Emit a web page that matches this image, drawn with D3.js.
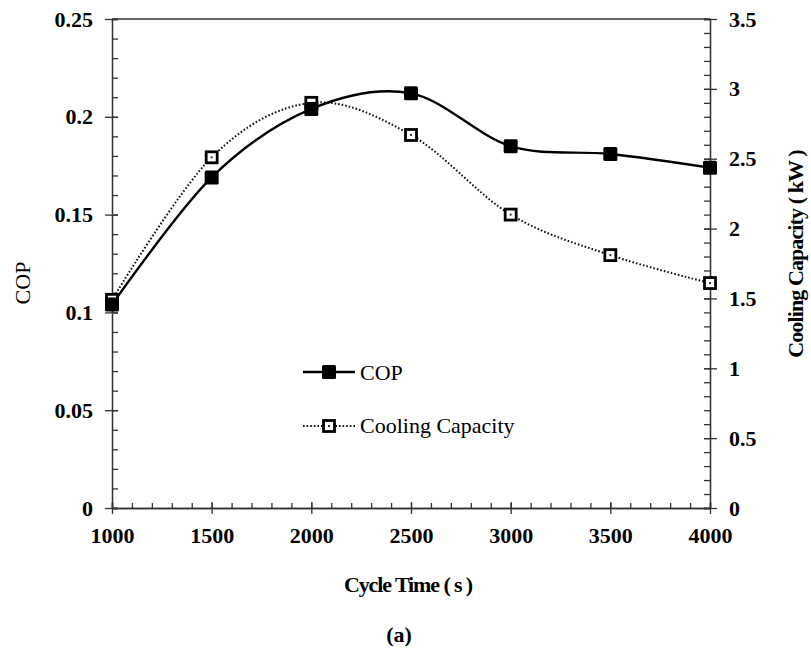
<!DOCTYPE html>
<html>
<head>
<meta charset="utf-8">
<script src="https://cdn.jsdelivr.net/npm/d3@7"></script>
<style>
  body { margin: 0; background: #fff; }
  svg { display: block; }
  text { font-family: "Liberation Serif", "Times New Roman", serif; fill: #000; }
</style>
</head>
<body>
<svg id="chart" width="811" height="656"></svg>
<script>
// ---- data ----
const cycleTimes = [1000, 1500, 2000, 2500, 3000, 3500, 4000];
const copValues = [0.104, 0.169, 0.204, 0.212, 0.185, 0.181, 0.174];
const coolingValues = [1.49, 2.51, 2.90, 2.67, 2.10, 1.81, 1.61];
const xTicks = [1000, 1500, 2000, 2500, 3000, 3500, 4000];
const copTicks = [0, 0.05, 0.1, 0.15, 0.2, 0.25];
const coolTicks = [0, 0.5, 1, 1.5, 2, 2.5, 3, 3.5];
const copTickLabels = ["0", "0.05", "0.1", "0.15", "0.2", "0.25"];
const coolTickLabels = ["0", "0.5", "1", "1.5", "2", "2.5", "3", "3.5"];
const seriesNames = ["COP", "Cooling Capacity"];

// ---- layout ----
const svg = d3.select("#chart");
const L = 112, R = 710, T = 19, B = 508;
const x = d3.scaleLinear().domain([1000, 4000]).range([L, R]);
const yL = d3.scaleLinear().domain([0, 0.25]).range([B, T]);
const yR = d3.scaleLinear().domain([0, 3.5]).range([B, T]);
const axisColor = "#333";

// top border
svg.append("line").attr("x1", L).attr("x2", R).attr("y1", T).attr("y2", T)
  .attr("stroke", axisColor).attr("stroke-width", 1.3);

function styleAxis(g) {
  g.select(".domain").attr("stroke", axisColor).attr("stroke-width", 1.3);
  g.selectAll(".tick line").attr("stroke", axisColor).attr("stroke-width", 1.3);
}

// minor ticks (inside)
const xMinor = d3.range(1000, 4001, 100);
const copMinor = d3.range(0, 26).map(i => i * 0.01);
const coolMinor = d3.range(0, 36).map(i => i * 0.1);

// x axis
const gx = svg.append("g").attr("transform", `translate(0,${B})`);
gx.call(d3.axisBottom(x).tickValues(xMinor).tickSize(-5).tickFormat(""));
styleAxis(gx);
const gx2 = svg.append("g").attr("transform", `translate(0,${B})`);
gx2.call(d3.axisBottom(x).tickValues(xTicks).tickSizeInner(6).tickSizeOuter(0).tickPadding(14).tickFormat(d3.format("d")));
styleAxis(gx2);
gx2.selectAll(".tick line").attr("y1", -6);
gx2.selectAll(".tick text").attr("font-size", 22).attr("font-weight", "bold").attr("dy", "0.7em");

// left axis
const gl = svg.append("g").attr("transform", `translate(${L},0)`);
gl.call(d3.axisLeft(yL).tickValues(copMinor).tickSize(-6).tickFormat(""));
styleAxis(gl);
const gl2 = svg.append("g").attr("transform", `translate(${L},0)`);
gl2.call(d3.axisLeft(yL).tickValues(copTicks).tickSizeInner(7).tickSizeOuter(0).tickPadding(12)
  .tickFormat((d, i) => copTickLabels[i]));
styleAxis(gl2);
gl2.selectAll(".tick line").attr("x1", 6);
gl2.selectAll(".tick text").attr("font-size", 22).attr("font-weight", "bold");

// right axis
const gr = svg.append("g").attr("transform", `translate(${R},0)`);
gr.call(d3.axisRight(yR).tickValues(coolMinor).tickSize(-6).tickFormat(""));
styleAxis(gr);
const gr2 = svg.append("g").attr("transform", `translate(${R},0)`);
gr2.call(d3.axisRight(yR).tickValues(coolTicks).tickSizeInner(7).tickSizeOuter(0).tickPadding(12)
  .tickFormat((d, i) => coolTickLabels[i]));
styleAxis(gr2);
gr2.selectAll(".tick line").attr("x1", -6);
gr2.selectAll(".tick text").attr("font-size", 22).attr("font-weight", "bold");

// axis titles
svg.append("text").attr("x", 408).attr("y", 592).attr("text-anchor", "middle")
  .attr("font-size", 22).attr("font-weight", "bold").attr("letter-spacing", "-1.1px")
  .text("Cycle Time ( s )");
svg.append("text").attr("x", 399).attr("y", 642).attr("text-anchor", "middle")
  .attr("font-size", 22).attr("font-weight", "bold").text("(a)");
svg.append("text").attr("transform", "translate(30,283) rotate(-90)")
  .attr("text-anchor", "middle").attr("font-size", 22).text("COP");
svg.append("text").attr("transform", "translate(803,254) rotate(-90)")
  .attr("text-anchor", "middle").attr("font-size", 22).attr("font-weight", "bold")
  .attr("letter-spacing", "-0.9px").text("Cooling Capacity ( kW )");

// lines
const copLine = d3.line().x((d, i) => x(cycleTimes[i])).y(d => yL(d)).curve(d3.curveCardinal.tension(0));
const coolLine = d3.line().x((d, i) => x(cycleTimes[i])).y(d => yR(d)).curve(d3.curveCardinal.tension(0));

svg.append("path").datum(coolingValues).attr("d", coolLine)
  .attr("fill", "none").attr("stroke", "#111").attr("stroke-width", 2).attr("stroke-dasharray", "1.6,2");
svg.append("path").datum(copValues).attr("d", copLine)
  .attr("fill", "none").attr("stroke", "#000").attr("stroke-width", 2.4);

// markers
function hollow(g, cx, cy) {
  g.append("rect").attr("x", cx - 5.5).attr("y", cy - 5.5).attr("width", 11).attr("height", 11)
    .attr("fill", "#fff").attr("stroke", "#000").attr("stroke-width", 2.8);
  g.append("rect").attr("x", cx - 1).attr("y", cy - 1).attr("width", 2).attr("height", 2).attr("fill", "#333");
}
function filled(g, cx, cy) {
  g.append("rect").attr("x", cx - 7).attr("y", cy - 7).attr("width", 14).attr("height", 14)
    .attr("rx", 1.5).attr("fill", "#000");
}
const gm1 = svg.append("g");
coolingValues.forEach((v, i) => hollow(gm1, x(cycleTimes[i]), yR(v)));
const gm2 = svg.append("g");
copValues.forEach((v, i) => filled(gm2, x(cycleTimes[i]), yL(v)));

// legend
const lg = svg.append("g");
lg.append("line").attr("x1", 303).attr("x2", 355).attr("y1", 372).attr("y2", 372)
  .attr("stroke", "#000").attr("stroke-width", 2.4);
filled(lg, 329, 372);
lg.append("text").attr("x", 360).attr("y", 380).attr("font-size", 22).text(seriesNames[0]);
lg.append("line").attr("x1", 303).attr("x2", 355).attr("y1", 426).attr("y2", 426)
  .attr("stroke", "#111").attr("stroke-width", 2).attr("stroke-dasharray", "1.6,2");
hollow(lg, 329, 426);
lg.append("text").attr("x", 360).attr("y", 433).attr("font-size", 22).text(seriesNames[1]);
</script>
</body>
</html>
